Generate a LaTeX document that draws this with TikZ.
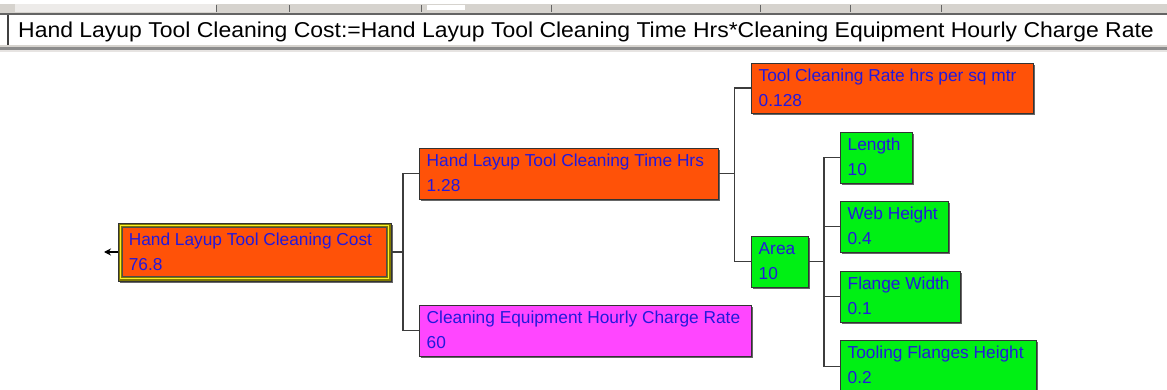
\documentclass[tikz,border=0pt]{standalone}
\usepackage{fontspec}
\setmainfont{Liberation Sans}
\usetikzlibrary{shadows,arrows.meta}

\definecolor{cellorange}{RGB}{255,82,8}
\definecolor{cellpink}{RGB}{255,70,255}
\definecolor{cellgreen}{RGB}{0,240,20}
\definecolor{celltext}{RGB}{35,25,220}
\definecolor{wire}{RGB}{60,60,60}
\definecolor{barface}{RGB}{214,211,206}
\definecolor{bardark}{RGB}{100,100,100}
\definecolor{rootband}{RGB}{128,120,0}
\definecolor{rootglow}{RGB}{250,240,40}

\tikzset{
  cellbox/.style={draw=black!80, line width=0.9pt, inner sep=0pt, outer sep=0pt,
    drop shadow={shadow xshift=2pt, shadow yshift=-2pt, fill=black, opacity=.6}},
  celltxt/.style={anchor=base west, inner sep=0pt, text=celltext,
    font=\fontsize{17.3}{20}\selectfont},
  wirepath/.style={draw=wire, line width=1.5pt},
}

% name, left, top, right, bottom, fill, title, value
\newcommand\valuecell[8]{%
  \node[cellbox, fill=#6, minimum width={(#4-#2)*1pt}, minimum height={(#5-#3)*1pt}]
    (#1) at ({(#2+#4)/2},{(#3+#5)/2}) {};
  \node[celltxt] (#1-a) at ([xshift=7.5pt,yshift=-18.5pt]#1.north west) {#7};
  \node[celltxt] (#1-b) at ([xshift=7.5pt,yshift=-43.5pt]#1.north west) {#8};
}

\begin{document}
\begin{tikzpicture}[x=1pt,y=-1pt]
\useasboundingbox (0,0) rectangle (1167,390);
\clip (0,0) rectangle (1167,390);
\fill[white] (0,0) rectangle (1167,390);

% toolbar strip with its separators
\fill[barface] (0,4) rectangle (1167,13);
\fill[barface!45] (15,4) rectangle (216,12);
\foreach \tx in {216,289,421,551,760,850,941}
  \draw[bardark, line width=0.8pt] (\tx,5) -- (\tx,12);
\fill[white] (427,5) rectangle (465,10);
\fill[bardark] (0,13) rectangle (1167,15.5);
% formula field
\fill[white] (0,15.5) rectangle (1167,45);
\fill[black!75] (7,15.5) rectangle (9,45);
\fill[barface] (0,45) rectangle (1167,47.5);
\fill[black!45] (0,47.5) rectangle (1167,50);
\fill[barface!60] (0,50) rectangle (1167,52);
\node[anchor=base west, inner sep=0pt, font=\fontsize{21.5}{24}\selectfont] (formula) at (18,37.5)
  {\scalebox{1.068}[1]{Hand Layup Tool Cleaning Cost:=Hand Layup Tool Cleaning Time Hrs*Cleaning Equipment Hourly Charge Rate}};

% root cell with its highlighted frame
\node[cellbox, fill=rootband, minimum width=273pt, minimum height=58pt] (root) at (254.5,252) {};
\draw[rootglow, line width=1.3pt] (120.5,225.5) rectangle (388.5,278.5);
\node[draw=black!70, line width=0.8pt, fill=cellorange, minimum width=264pt, minimum height=49pt,
  inner sep=0pt] (root-in) at (254.5,252) {};
\node[celltxt] (root-a) at ([xshift=6.5pt,yshift=-18pt]root-in.north west) {Hand Layup Tool Cleaning Cost};
\node[celltxt] (root-b) at ([xshift=6.5pt,yshift=-43pt]root-in.north west) {76.8};
\coordinate (out) at (104,252);
\draw[black, line width=1.2pt, -{Stealth[length=7pt,width=7pt]}] (root.west) -- (out);

% inputs
\valuecell{time}{419}{148}{718}{199}{cellorange}{Hand Layup Tool Cleaning Time Hrs}{1.28}
\valuecell{equip}{419}{305}{751}{356}{cellpink}{Cleaning Equipment Hourly Charge Rate}{60}
\valuecell{rate}{751}{63}{1033}{113}{cellorange}{Tool Cleaning Rate hrs per sq mtr}{0.128}
\valuecell{area}{751}{236}{808}{287}{cellgreen}{Area}{10}
\valuecell{length}{840}{132}{912}{183}{cellgreen}{Length}{10}
\valuecell{web}{840}{201}{948}{252}{cellgreen}{Web Height}{0.4}
\valuecell{flange}{840}{271}{960}{322}{cellgreen}{Flange Width}{0.1}
\valuecell{tooling}{840}{340}{1036}{393}{cellgreen}{Tooling Flanges Height}{0.2}

% tree connectors
\path[wirepath] (root.east) -- ++(12,0) |- (time.west);
\path[wirepath] (root.east) -- ++(12,0) |- (equip.west);
\path[wirepath] (time.east) -- ++(16.5,0) |- (rate.west);
\path[wirepath] (time.east) -- ++(16.5,0) |- (area.west);
\path[wirepath] (area.east) -- ++(16,0) |- (length.west);
\path[wirepath] (area.east) -- ++(16,0) |- (web.west);
\path[wirepath] (area.east) -- ++(16,0) |- (flange.west);
\path[wirepath] (area.east) -- ++(16,0) |- (tooling.west);
\end{tikzpicture}
\end{document}
